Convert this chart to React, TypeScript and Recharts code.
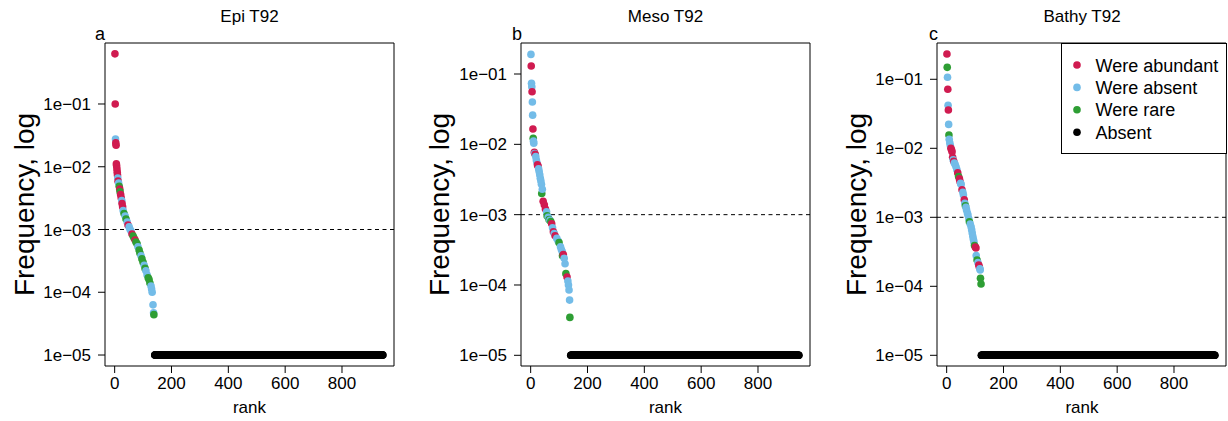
import { Legend, ReferenceArea, ReferenceLine, Scatter, ScatterChart, XAxis, YAxis } from "recharts";

type Pt = [number, number]; // [rank, frequency]

// Epi T92
const epiWereAbundant: Pt[] = [
  [1, 0.63], [2, 0.1], [4, 0.024], [5, 0.022], [6, 0.0111], [7, 0.0103], [8, 0.0092],
  [9, 0.0082], [10, 0.0074], [12, 0.0059], [18, 0.0044], [21, 0.0036], [23, 0.0032],
  [26, 0.0026], [28, 0.0023], [47, 0.00118], [61, 0.00085], [72, 0.00068],
];
const epiWereAbsent: Pt[] = [
  [3, 0.0277], [11, 0.0066], [14, 0.0055], [25, 0.0029], [30, 0.002], [37, 0.00164],
  [44, 0.00132], [51, 0.0011], [54, 0.00101], [58, 0.00094], [82, 0.00053], [93, 0.00038],
  [104, 0.00027], [110, 0.00022], [114, 0.00019], [128, 0.000126], [130, 0.000113],
  [132, 0.0001], [135, 0.000063], [137, 0.000047],
];
const epiWereRare: Pt[] = [
  [16, 0.0049], [19, 0.004], [33, 0.0018], [40, 0.00147], [65, 0.00079], [68, 0.00073],
  [75, 0.00063], [79, 0.00059], [86, 0.00047], [89, 0.00042], [96, 0.00034], [100, 0.0003],
  [107, 0.00024], [118, 0.00017], [121, 0.00016], [124, 0.00014], [138, 0.000044],
];
const epiAbsentFrom = 141;

// Meso T92
const mesoWereAbundant: Pt[] = [
  [2, 0.13], [5, 0.056], [8, 0.0165], [13, 0.0077], [16, 0.0072], [24, 0.0051], [26, 0.0049],
  [44, 0.00155], [48, 0.00138], [52, 0.0012], [74, 0.00074], [80, 0.00057], [86, 0.0005],
  [115, 0.00027], [128, 0.00013],
];
const mesoWereAbsent: Pt[] = [
  [1, 0.19], [3, 0.074], [4, 0.066], [6, 0.04], [7, 0.026], [10, 0.0111], [11, 0.0104],
  [14, 0.0074], [18, 0.0067], [20, 0.006], [22, 0.0055], [28, 0.0045], [30, 0.0041],
  [32, 0.0037], [34, 0.0033], [36, 0.003], [38, 0.0027], [41, 0.0023], [56, 0.0011],
  [62, 0.00092], [68, 0.00083], [77, 0.00065], [83, 0.00054], [92, 0.00046], [97, 0.00042],
  [105, 0.00035], [108, 0.00032], [111, 0.0003], [118, 0.00024], [121, 0.0002],
  [131, 0.000114], [133, 0.0001], [135, 0.000085], [137, 0.000061],
];
const mesoWereRare: Pt[] = [
  [9, 0.0122], [39, 0.002], [58, 0.00096], [65, 0.00085], [71, 0.0008], [100, 0.0004],
  [112, 0.00026], [124, 0.000145], [138, 0.0000346],
];
const mesoAbsentFrom = 141;

// Bathy T92
const bathyWereAbundant: Pt[] = [
  [1, 0.233], [4, 0.0716], [6, 0.0359], [15, 0.01], [17, 0.0095], [19, 0.0089], [21, 0.0074],
  [25, 0.0065], [39, 0.0044], [45, 0.0036], [47, 0.0033], [54, 0.0025], [62, 0.0018],
  [101, 0.00037], [103, 0.00036], [113, 0.000204], [115, 0.00019],
];
const bathyWereAbsent: Pt[] = [
  [3, 0.107], [5, 0.042], [7, 0.0222], [9, 0.0135], [11, 0.012], [13, 0.011], [23, 0.0068],
  [27, 0.0061], [30, 0.0058], [33, 0.0054], [36, 0.0049], [49, 0.0031], [51, 0.003],
  [57, 0.0023], [59, 0.0021], [64, 0.0016], [68, 0.0014], [70, 0.00128], [73, 0.00115],
  [75, 0.00108], [78, 0.00095], [83, 0.0008], [86, 0.00073], [88, 0.00066], [90, 0.00059],
  [92, 0.00053], [94, 0.00048], [96, 0.00044], [104, 0.00028], [110, 0.00022],
  [117, 0.00018], [118, 0.000173],
];
const bathyWereRare: Pt[] = [
  [2, 0.149], [8, 0.0156], [42, 0.0039], [66, 0.00147], [80, 0.00086], [98, 0.00039],
  [107, 0.00024], [119, 0.000131], [121, 0.000108],
];
const bathyAbsentFrom = 122;

// ranks that are absent are drawn at the floor frequency
const lastRank = 944;
const absentFreq = 1e-5;
const rareThreshold = 1e-3;

const xTicks = [0, 200, 400, 600, 800];
const yTicks = [1e-5, 1e-4, 1e-3, 1e-2, 1e-1];
const groupNames = ["Were abundant", "Were absent", "Were rare", "Absent"];

const COLORS = ["#d01b50", "#73bce8", "#2e9e34", "#000000"];
const FONT = '"Liberation Sans", Arial, Helvetica, sans-serif';
const X_DOMAIN: [number, number] = [-34, 983];

type Row = { rank: number; freq: number; color: string };

function buildPoints(groups: Pt[][]): Row[] {
  const rows: Row[] = [];
  groups.forEach((g, i) => g.forEach(([rank, freq]) => rows.push({ rank, freq, color: COLORS[i] })));
  return rows.sort((a, b) => a.rank - b.rank);
}

function buildAbsent(from: number): Row[] {
  const rows: Row[] = [];
  for (let r = from; r <= lastRank; r++) rows.push({ rank: r, freq: absentFreq, color: COLORS[3] });
  return rows;
}

const dot = (p: any) => <circle cx={p.cx} cy={p.cy} r={3.8} fill={p.payload.color} />;

const tickLabel = (v: number) => `1e\u22120${Math.round(-Math.log10(v))}`;

function LegendBox() {
  return (
    <svg width={166} height={111} style={{ display: "block" }}>
      <rect x={0.5} y={0.5} width={165} height={110} fill="#fff" stroke="#000" />
      {groupNames.map((name, i) => (
        <g key={name}>
          <circle cx={16} cy={22 + i * 22.4} r={3.8} fill={COLORS[i]} />
          <text x={34.5} y={28.5 + i * 22.4} fontSize={18} fontFamily={FONT} fill="#000">
            {name}
          </text>
        </g>
      ))}
    </svg>
  );
}

type PanelProps = {
  left: number;
  width: number;
  axisWidth: number;
  yDomain: [number, number];
  groups: Pt[][];
  absentFrom: number;
  legend?: boolean;
};

function Panel({ left, width, axisWidth, yDomain, groups, absentFrom, legend }: PanelProps) {
  const plotRight = width - (width - axisWidth - 289);
  const points = buildPoints(groups);
  const absent = buildAbsent(absentFrom);
  return (
    <div style={{ position: "absolute", left, top: 0 }}>
      <ScatterChart
        width={width}
        height={421}
        margin={{ top: 43, right: width - plotRight, bottom: 0, left: 0 }}
      >
        <XAxis
          type="number"
          dataKey="rank"
          domain={X_DOMAIN}
          allowDataOverflow
          ticks={xTicks}
          axisLine={false}
          tickSize={7}
          tickMargin={4}
          tickLine={{ stroke: "#000" }}
          tick={{ fill: "#000", fontSize: 17 }}
          height={55}
        />
        <YAxis
          type="number"
          dataKey="freq"
          scale="log"
          domain={yDomain}
          allowDataOverflow
          ticks={yTicks}
          tickFormatter={tickLabel}
          axisLine={false}
          tickSize={7}
          tickMargin={7}
          tickLine={{ stroke: "#000" }}
          tick={{ fill: "#000", fontSize: 17 }}
          width={axisWidth}
        />
        <ReferenceLine y={rareThreshold} stroke="#000" strokeWidth={1} strokeDasharray="4 3.5" />
        <Scatter data={absent} isAnimationActive={false} shape={dot} />
        <Scatter data={points} isAnimationActive={false} shape={dot} />
        <ReferenceArea
          x1={X_DOMAIN[0]}
          x2={X_DOMAIN[1]}
          y1={yDomain[0]}
          y2={yDomain[1]}
          fill="none"
          fillOpacity={0}
          stroke="#000"
          strokeWidth={1}
          ifOverflow="visible"
        />
        {legend && (
          <Legend
            layout="vertical"
            align="center"
            verticalAlign="middle"
            wrapperStyle={{ left: 241, top: 43, width: 166, height: 111, bottom: "auto", right: "auto" }}
            content={() => <LegendBox />}
          />
        )}
      </ScatterChart>
    </div>
  );
}

const labels = [
  { cx: 249.5, letterX: 95, ylabX: 33.5, title: "Epi T92", letter: "a" },
  { cx: 665.5, letterX: 512, ylabX: 448.5, title: "Meso T92", letter: "b" },
  { cx: 1082, letterX: 929, ylabX: 866, title: "Bathy T92", letter: "c" },
];

export default function App() {
  return (
    <div
      style={{
        position: "absolute",
        left: 0,
        top: 0,
        width: 1228,
        height: 421,
        background: "#fff",
        fontFamily: FONT,
        overflow: "hidden",
      }}
    >
      <Panel
        left={0}
        width={410}
        axisWidth={105}
        yDomain={[Math.pow(10, -5.175), Math.pow(10, -0.028)]}
        groups={[epiWereAbundant, epiWereAbsent, epiWereRare]}
        absentFrom={epiAbsentFrom}
      />
      <Panel
        left={410}
        width={410}
        axisWidth={111}
        yDomain={[Math.pow(10, -5.152), Math.pow(10, -0.559)]}
        groups={[mesoWereAbundant, mesoWereAbsent, mesoWereRare]}
        absentFrom={mesoAbsentFrom}
      />
      <Panel
        left={820}
        width={408}
        axisWidth={117}
        yDomain={[Math.pow(10, -5.155), Math.pow(10, -0.474)]}
        groups={[bathyWereAbundant, bathyWereAbsent, bathyWereRare]}
        absentFrom={bathyAbsentFrom}
        legend
      />
      <svg
        width={1228}
        height={421}
        style={{ position: "absolute", left: 0, top: 0, pointerEvents: "none" }}
        fontFamily={FONT}
      >
        {labels.map((l) => (
          <g key={l.letter}>
            <text x={l.cx} y={21.5} fontSize={17} textAnchor="middle" fill="#000">
              {l.title}
            </text>
            <text x={l.letterX} y={40} fontSize={18} fill="#000">
              {l.letter}
            </text>
            <text x={l.cx} y={413} fontSize={17} textAnchor="middle" fill="#000">
              rank
            </text>
            <text
              transform={`translate(${l.ylabX},204.5) rotate(-90)`}
              fontSize={28}
              textAnchor="middle"
              fill="#000"
            >
              Frequency, log
            </text>
          </g>
        ))}
      </svg>
    </div>
  );
}
